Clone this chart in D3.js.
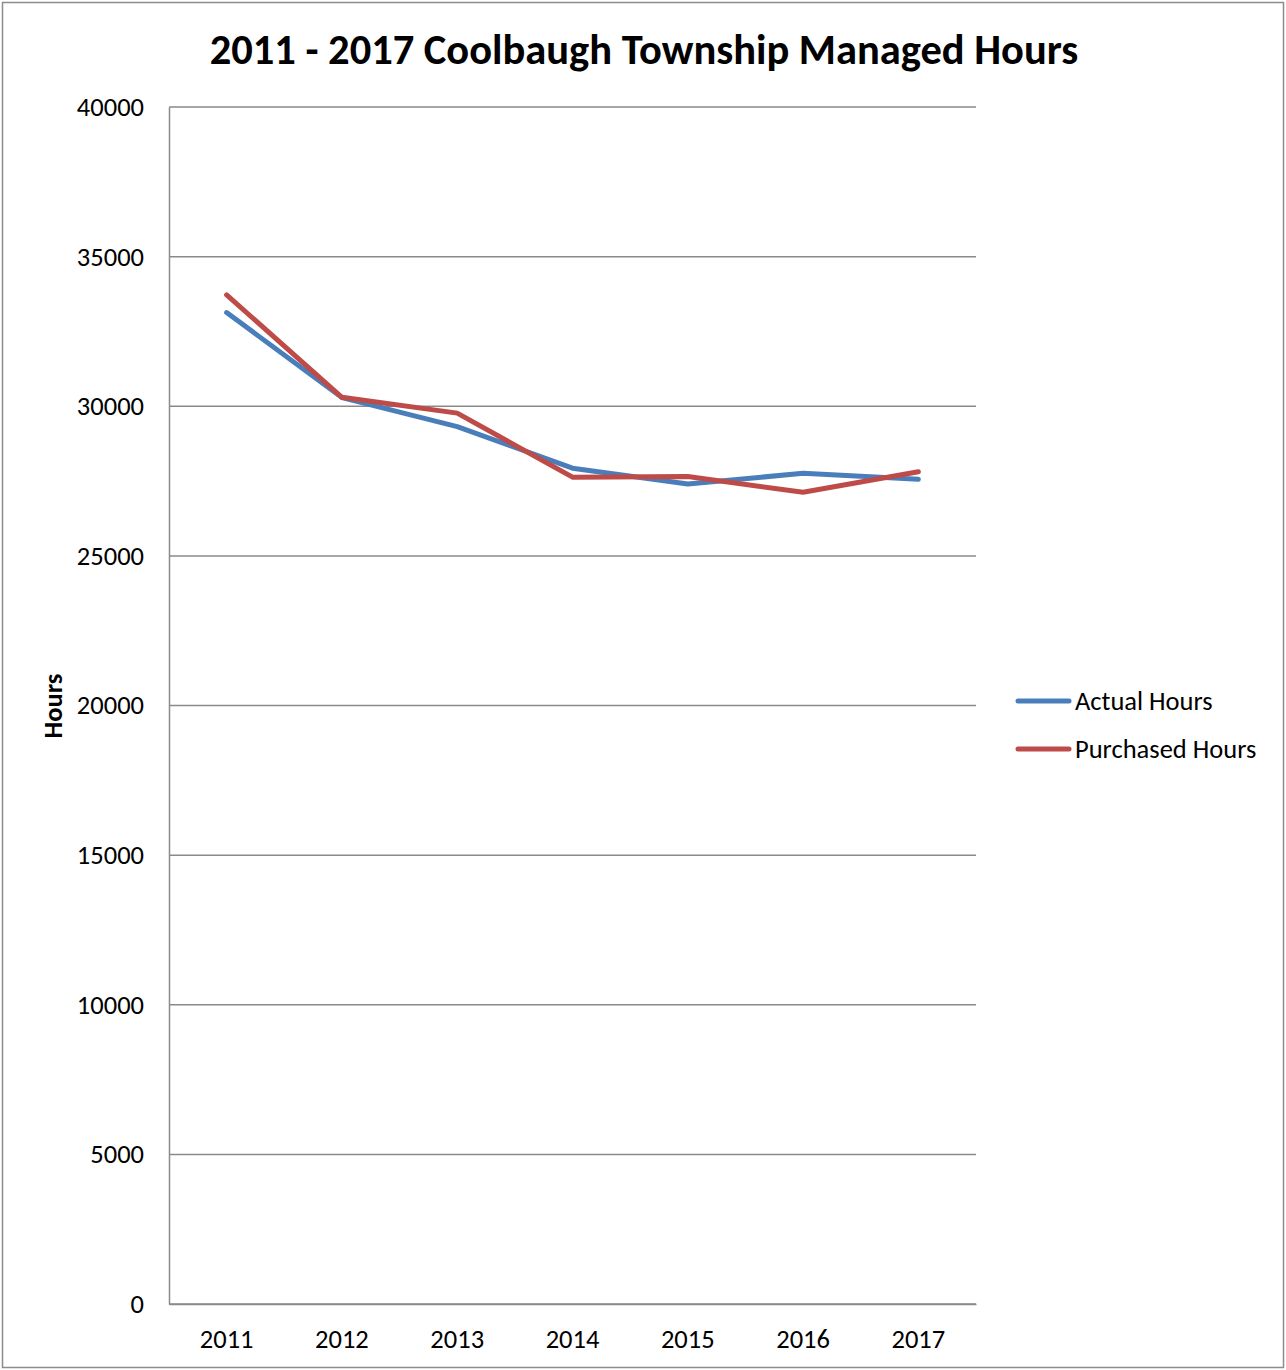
<!DOCTYPE html>
<html>
<head>
<meta charset="utf-8">
<script src="https://cdn.jsdelivr.net/npm/d3@7"></script>
<style>
  html, body { margin: 0; padding: 0; background: #fff; }
  svg { display: block; }
  text { font-family: Carlito, Lato, "Open Sans", sans-serif; fill: #000; }
</style>
</head>
<body>
<svg id="chart" width="1286" height="1370"></svg>
<script>
const years = ["2011", "2012", "2013", "2014", "2015", "2016", "2017"];
const actualHours = [33130, 30290, 29320, 27930, 27400, 27760, 27560];
const purchasedHours = [33720, 30300, 29770, 27630, 27650, 27125, 27810];
const yTicks = [0, 5000, 10000, 15000, 20000, 25000, 30000, 35000, 40000];
const seriesNames = ["Actual Hours", "Purchased Hours"];
const seriesColors = ["#4A7EBB", "#BE4B48"];
const titleText = "2011 - 2017 Coolbaugh Township Managed Hours";
const yAxisTitle = "Hours";

const svg = d3.select("#chart");
const W = 1286, H = 1370;
const plot = { left: 169, right: 976, top: 107, bottom: 1304 };
const FS = 26.5;

// outer frame
svg.append("rect").attr("x", 2.5).attr("y", 2.5).attr("width", W - 5).attr("height", H - 5)
  .attr("fill", "#fff").attr("stroke", "#8c8c8c").attr("stroke-width", 1.5);

const x = d3.scaleBand().domain(years).range([plot.left, plot.right]);
const y = d3.scaleLinear().domain([0, 40000]).range([plot.bottom, plot.top]);

// gridlines
svg.append("g").selectAll("line").data(yTicks).join("line")
  .attr("x1", plot.left).attr("x2", plot.right)
  .attr("y1", d => y(d)).attr("y2", d => y(d))
  .attr("stroke", "#8a8a8a").attr("stroke-width", 1.5);

// y axis
const yAxis = svg.append("g").attr("transform", `translate(${plot.left},0)`)
  .call(d3.axisLeft(y).tickValues(yTicks).tickSize(0).tickPadding(25).tickFormat(d3.format("d")));
yAxis.select(".domain").attr("stroke", "#8a8a8a").attr("stroke-width", 1.5);
yAxis.selectAll("text").attr("font-size", FS).attr("fill", "#000")
  .style("font-family", "Carlito, Lato, 'Open Sans', sans-serif");

// x axis
const xAxis = svg.append("g").attr("transform", `translate(0,${plot.bottom})`)
  .call(d3.axisBottom(x).tickSize(0).tickPadding(25));
xAxis.select(".domain").attr("stroke", "#8a8a8a").attr("stroke-width", 1.5);
xAxis.selectAll("text").attr("font-size", FS).attr("fill", "#000")
  .style("font-family", "Carlito, Lato, 'Open Sans', sans-serif");

// lines
const line = d3.line().x((d, i) => x(years[i]) + x.bandwidth() / 2).y(d => y(d));
[actualHours, purchasedHours].forEach((s, k) => {
  svg.append("path").datum(s).attr("d", line)
    .attr("fill", "none").attr("stroke", seriesColors[k]).attr("stroke-width", 5)
    .attr("stroke-linejoin", "round").attr("stroke-linecap", "round");
});

// title
svg.append("text").attr("x", 644).attr("y", 64).attr("text-anchor", "middle")
  .attr("font-size", 42.5).attr("font-weight", "bold").text(titleText);

// y axis title
svg.append("text").attr("transform", "translate(62,706) rotate(-90)")
  .attr("text-anchor", "middle").attr("font-size", FS).attr("font-weight", "bold").text(yAxisTitle);

// legend
const lg = svg.append("g");
seriesNames.forEach((n, i) => {
  const ly = 701 + i * 48;
  lg.append("line").attr("x1", 1018).attr("x2", 1069).attr("y1", ly).attr("y2", ly)
    .attr("stroke", seriesColors[i]).attr("stroke-width", 5).attr("stroke-linecap", "round");
  lg.append("text").attr("x", 1075).attr("y", ly + 9).attr("font-size", FS).text(n);
});
</script>
</body>
</html>
